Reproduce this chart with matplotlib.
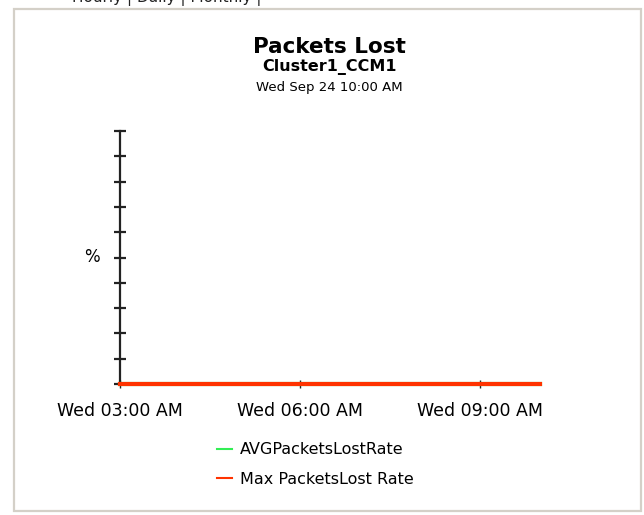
import matplotlib.pyplot as plt
from matplotlib.patches import Rectangle
from matplotlib.lines import Line2D
import numpy as np

# hourly samples, Wed 03:00 AM .. Wed 10:00 AM
hours = [3, 4, 5, 6, 7, 8, 9, 10]
avg_lost = [0, 0, 0, 0, 0, 0, 0, 0]
max_lost = [0, 0, 0, 0, 0, 0, 0, 0]
tick_hours = [3, 6, 9]
tick_labels = ['Wed 03:00 AM', 'Wed 06:00 AM', 'Wed 09:00 AM']
series_names = ['AVGPacketsLostRate', 'Max PacketsLost Rate']

green = '#33ee55'
red = '#ff3300'

fig = plt.figure(figsize=(6.44, 5.15), dpi=100)
W, H = 644, 515

def fx(px):
    return px / W

def fy(py):
    return 1 - py / H

# panel frame and the tab strip above it (scrolled mostly out of view)
fig.patches.append(Rectangle((fx(14), fy(511)), fx(627), 502 / H,
                             transform=fig.transFigure, fill=False,
                             edgecolor='#d4d0c8', lw=1.6))
fig.text(fx(262), fy(2), 'Hourly | Daily | Monthly |', ha='right', va='baseline',
         fontsize=11, color='#222222')

fig.text(fx(329), fy(47), 'Packets Lost', ha='center', va='center',
         fontsize=15.5, fontweight='bold')
fig.text(fx(329), fy(67), 'Cluster1_CCM1', ha='center', va='center',
         fontsize=11.5, fontweight='bold')
fig.text(fx(329), fy(87), 'Wed Sep 24 10:00 AM', ha='center', va='center',
         fontsize=9.5)

ax = fig.add_axes([fx(120), fy(384), fx(420), 253 / H])
ax.plot(hours, avg_lost, color=green, lw=3, clip_on=False, zorder=3)
ax.plot(hours, max_lost, color=red, lw=3, clip_on=False, zorder=4)

ax.set_xlim(3, 10)
ax.set_ylim(0, 10)
ax.set_xticks(tick_hours)
ax.set_xticklabels(tick_labels, fontsize=12.5)
ax.set_yticks(np.arange(0, 11))
ax.set_yticklabels([])
ax.tick_params(axis='y', direction='inout', length=9, width=1.6, color='#222222')
ax.tick_params(axis='x', direction='inout', length=6, width=1, color='#222222', pad=10)
for s in ['top', 'right']:
    ax.spines[s].set_visible(False)
ax.spines['left'].set_linewidth(1.6)
ax.spines['left'].set_color('#222222')
ax.spines['bottom'].set_color('#222222')
ax.set_ylabel('%', rotation=0, fontsize=12, labelpad=12, va='center')

handles = [Line2D([], [], color=green, lw=1.5), Line2D([], [], color=red, lw=1.5)]
fig.legend(handles, series_names, loc='upper left',
           bbox_to_anchor=(fx(203), fy(428)), frameon=False, fontsize=11.5,
           handlelength=0.9, handletextpad=0.5, labelspacing=0.9)

fig.savefig('out.png', dpi=100, facecolor='white')
